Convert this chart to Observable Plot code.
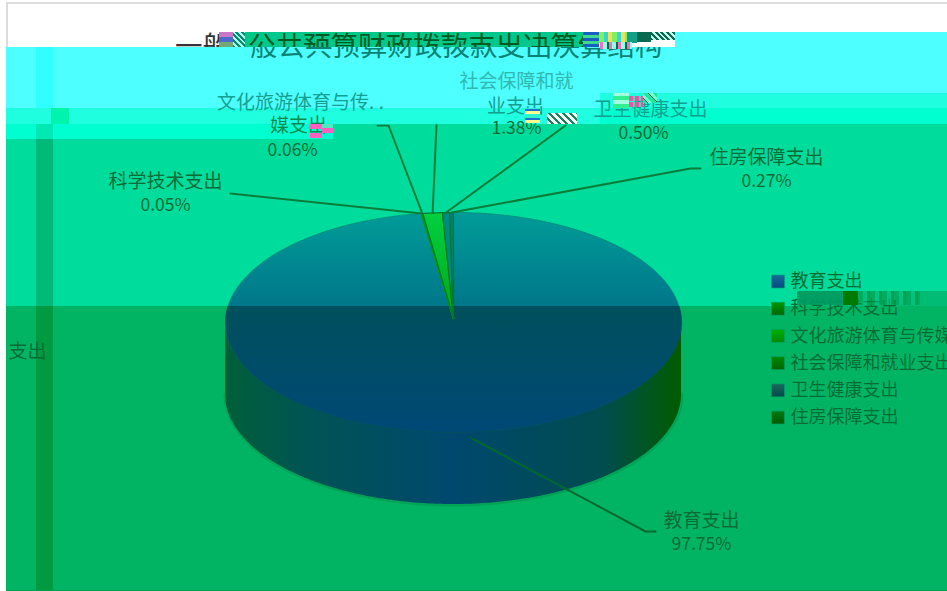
<!DOCTYPE html>
<html><head><meta charset="utf-8">
<script src="https://cdn.jsdelivr.net/npm/d3@7"></script>
<script src="https://cdn.jsdelivr.net/npm/@observablehq/plot@0.6"></script>
<style>
html,body{margin:0;padding:0;background:#fff;overflow:hidden}
#stage{position:relative;width:947px;height:591px;overflow:hidden;font-family:"Noto Sans CJK SC",sans-serif}
#stage i{position:absolute;display:block}
#stage svg{position:absolute;left:0;top:0;z-index:2;background:transparent}
.over{z-index:5}
.t{position:absolute;overflow:hidden;white-space:nowrap;font-size:27.5px;line-height:32px;z-index:3}
.t span{position:absolute;top:-4px}
</style></head><body>
<div id="stage">
  <!-- frame -->
  <i style="left:6px;top:2px;width:941px;height:2px;background:#dcdcdc"></i>
  <i style="left:6px;top:2px;width:2px;height:46px;background:#dcdcdc"></i>
  <!-- displaced colour bands -->
  <i style="left:6px;top:47px;width:941px;height:61px;background:#4dffff"></i>
  <i style="left:675px;top:32px;width:272px;height:15px;background:#4dffff"></i>
  <i style="left:6px;top:108px;width:941px;height:16px;background:#1fffdf"></i>
  <i style="left:6px;top:124px;width:327px;height:15px;background:#00ffd0"></i>
  <i style="left:333px;top:124px;width:614px;height:182px;background:#00dc9c"></i>
  <i style="left:6px;top:139px;width:327px;height:167px;background:#00dc9c"></i>
  <i style="left:600px;top:93px;width:347px;height:15px;background:#1fffdf"></i>
  <i style="left:600px;top:108px;width:347px;height:16px;background:#00ffd0"></i>
  <i style="left:6px;top:306px;width:941px;height:284px;background:#00b464"></i>
  <i style="left:797px;top:291px;width:150px;height:15px;background:#00bc74"></i>
  <i style="left:6px;top:590px;width:941px;height:1px;background:#00a050"></i>
  <!-- vertical strip -->
  <i style="left:36px;top:47px;width:17px;height:61px;background:#30ffff"></i>
  <i style="left:51px;top:108px;width:18px;height:16px;background:#00f4ac"></i>
  <i style="left:36px;top:124px;width:17px;height:15px;background:#00e8b4"></i>
  <i style="left:36px;top:139px;width:17px;height:167px;background:#00bb78"></i>
  <i style="left:36px;top:306px;width:17px;height:284px;background:#009a40"></i>
  <!-- title, split by the displaced rows -->
  <div class="t" style="left:170px;top:32px;width:49px;height:15px;color:#333"><span style="left:5px">一般</span></div>
  <i style="left:245px;top:32px;width:338px;height:15px;background:#00c88a;z-index:1"></i>
  <div class="t" style="left:245px;top:32px;width:340px;height:15px;color:#005a22"><span style="left:3px">公共预算财政拨款支出决算结构</span></div>
  <div class="t" style="left:245px;top:47px;width:430px;height:15px;color:#0a8274"><span style="left:5px;top:-19px">般公共预算财政拨款支出决算结构</span></div>

  <div id="chart"></div>

  <!-- compression noise over the drawing -->
  <i class="over" style="left:0;top:0;width:6px;height:591px;background:#fff"></i>
  <i class="over" style="left:219px;top:32px;width:14px;height:5px;background:#c878c8"></i>
  <i class="over" style="left:219px;top:37px;width:14px;height:5px;background:#5068c8"></i>
  <i class="over" style="left:219px;top:42px;width:14px;height:5px;background:#70a878"></i>
  <i class="over" style="left:233px;top:32px;width:12px;height:15px;background:repeating-linear-gradient(45deg,#0c8a70 0 2px,#a8fff0 2px 4px)"></i>
  <i class="over" style="left:583px;top:32px;width:16px;height:15px;background:repeating-linear-gradient(0deg,#1860c0 0 3px,#40d890 3px 6px)"></i>
  <i class="over" style="left:599px;top:32px;width:28px;height:11px;background:repeating-linear-gradient(90deg,#80f060 0 5px,#30d8d0 5px 9px,#f0e060 9px 13px)"></i>
  <i class="over" style="left:627px;top:32px;width:10px;height:11px;background:#10a088"></i>
  <i class="over" style="left:637px;top:32px;width:14px;height:10px;background:#0a6a50"></i>
  <i class="over" style="left:651px;top:32px;width:24px;height:8px;background:repeating-linear-gradient(45deg,#0a6a50 0 2px,#c0fff0 2px 4px)"></i>
  <i class="over" style="left:600px;top:42px;width:32px;height:7px;background:repeating-linear-gradient(90deg,#f070c0 0 3px,#90ffe0 3px 7px,#0a6a50 7px 9px)"></i>
  <i class="over" style="left:310px;top:124px;width:12px;height:5px;background:#ff60c0"></i>
  <i class="over" style="left:322px;top:128px;width:11px;height:5px;background:#ff60c0"></i>
  <i class="over" style="left:310px;top:133px;width:12px;height:5px;background:#ff60c0"></i>
  <i class="over" style="left:322px;top:124px;width:11px;height:4px;background:#50e8c0"></i>
  <i class="over" style="left:613px;top:93px;width:16px;height:15px;background:repeating-linear-gradient(0deg,#30f090 0 4px,#a0ffe0 4px 8px)"></i>
  <i class="over" style="left:629px;top:96px;width:14px;height:5px;background:repeating-linear-gradient(90deg,#f050b0 0 4px,#40e0a0 4px 6px)"></i>
  <i class="over" style="left:629px;top:102px;width:14px;height:5px;background:repeating-linear-gradient(90deg,#f050b0 0 4px,#40e0a0 4px 6px)"></i>
  <i class="over" style="left:643px;top:93px;width:14px;height:10px;background:repeating-linear-gradient(45deg,#20e8a0 0 3px,#0a6a40 3px 4px,#70ffd0 4px 7px)"></i>
  <i class="over" style="left:525px;top:108px;width:15px;height:15px;background:repeating-linear-gradient(0deg,#ffff90 0 3px,#2070d0 3px 5px,#30f0d0 5px 9px)"></i>
  <i class="over" style="left:547px;top:113px;width:30px;height:11px;background:repeating-linear-gradient(45deg,#f0fff8 0 3px,#208060 3px 5px)"></i>
  <i class="over" style="left:797px;top:291px;width:46px;height:14px;background:#009a62;opacity:.9"></i>
  <i class="over" style="left:843px;top:291px;width:15px;height:14px;background:#007a00"></i>
  <i class="over" style="left:858px;top:291px;width:62px;height:14px;opacity:.55;background:repeating-linear-gradient(90deg,#00a050 0 5px,#00c888 5px 9px,#008a30 9px 12px)"></i>
</div>
<script>
// ---------- data ----------
const categories = ["教育支出","科学技术支出","文化旅游体育与传媒","社会保障和就业支出","卫生健康支出","住房保障支出"];
const shares = [97.75, 0.05, 0.06, 1.38, 0.50, 0.27];
const sliceFills = ["url(#eduTop)","#009000","#00a000","url(#socialTop)","#008a84","#007f7c"];
const swatchTops = ["#1a6a9a","#009a00","#00b000","#008a00","#1a6a60","#007a10"];
const swatchBottoms = ["#004a80","#006400","#008a00","#006400","#004a48","#005a00"];

// ---------- layout ----------
const W = 947, H = 591;
const pie = {cx:453, cy:322, rx:228, ry:110, apexY:318, depth:72};
const labelLines = [
  {text:"教育支出", x:701, y:520}, {text:"97.75%", x:701, y:544},
  {text:"科学技术支出", x:165, y:181}, {text:"0.05%", x:165, y:205},
  {text:"文化旅游体育与传. .", x:300, y:102}, {text:"媒支出", x:298, y:125}, {text:"0.06%", x:292, y:150},
  {text:"社会保障和就", x:516, y:81}, {text:"业支出", x:515, y:106}, {text:"1.38%", x:516, y:128},
  {text:"卫生健康支出", x:650, y:109}, {text:"0.50%", x:643, y:133},
  {text:"住房保障支出", x:766, y:157}, {text:"0.27%", x:766, y:181},
  {text:"支出", x:27, y:351, anchor:"end"}
];
const leaderPaths = [
  [[645,531],[655,531]],
  [[230,193]],
  [[388,125],[377,125]],
  [[436,124]],
  [[565,125]],
  [[690,168],[700,168]]
];
const legendTop = 281, legendStep = 27.2;

// ink of a label depends on the displaced band it sits in
const inkAt = d => d.y < 90 ? "#30b8b0"
  : d.y < 115 ? "#14a090"
  : d.y < 139 && d.x < 333 ? "#0a8a50"
  : "#0b6c36";
const isPercent = d => d.text.endsWith("%");

// ---------- geometry from the values ----------
const total = d3.sum(shares);
let run = 0;
const arcs = shares.map(v => { const a0 = run/total*2*Math.PI; run += v; return [a0, run/total*2*Math.PI]; });
const rim = a => ({x: pie.cx + pie.rx*Math.sin(a), y: pie.cy - pie.ry*Math.cos(a)});
const sliceRows = categories.flatMap((name,i) => {
  const [a0,a1] = arcs[i], n = Math.max(2, Math.ceil((a1-a0)*120));
  const ring = d3.range(n+1).map(k => rim(a0+(a1-a0)*k/n));
  return [{x:pie.cx,y:pie.apexY},...ring,{x:pie.cx,y:pie.apexY}].map(p => ({...p,name}));
});
const sideRows = d3.range(241).map(k => {
  const p = rim(Math.PI/2 + Math.PI*k/240);
  return {x:p.x, top:p.y, bottom:p.y+pie.depth};
});
const leaderRows = categories.flatMap((name,i) => {
  const mid = (arcs[i][0]+arcs[i][1])/2;
  const s = rim(mid);
  return [[s.x, i===0 ? s.y+5 : s.y], ...leaderPaths[i]].map(([x,y]) => ({x,y,name}));
});
const legendRows = categories.map((name,i) => ({name, i, y:legendTop+legendStep*i}));

// ---------- gradient definitions ----------
const ns = "http://www.w3.org/2000/svg";
function grad(id, stops, attrs){
  const g = document.createElementNS(ns,"linearGradient");
  g.setAttribute("id",id);
  Object.entries(attrs).forEach(([k,v]) => g.setAttribute(k,v));
  stops.forEach(([o,c]) => { const s=document.createElementNS(ns,"stop"); s.setAttribute("offset",o); s.setAttribute("stop-color",c); g.appendChild(s); });
  return g;
}
const userY = {gradientUnits:"userSpaceOnUse",x1:0,x2:0,y1:0,y2:H};
const userX = {gradientUnits:"userSpaceOnUse",x1:0,x2:W,y1:0,y2:0};
const hard = (rows) => rows.flatMap(([y0,y1,c0,c1]) => [[y0/H,c0],[y1/H,c1||c0]]);
function defsMark(){
  const d = document.createElementNS(ns,"defs");
  d.appendChild(grad("eduTop", hard([[212,305.5,"#009c98","#00778a"],[305.5,440,"#00505c","#004878"]]), userY));
  d.appendChild(grad("eduRim", hard([[0,305.5,"#00907c"],[305.5,591,"#00505c"]]), userY));
  d.appendChild(grad("socialTop", [[0,"#00d040"],[1,"#00a818"]], {x1:0,x2:0,y1:0,y2:1}));
  d.appendChild(grad("side", [[225/W,"#005f38"],[300/W,"#005552"],[450/W,"#00486e"],[600/W,"#004c50"],[681/W,"#005c00"]], userX));
  d.appendChild(grad("lead", hard([[0,124,"#14a878"],[124,306,"#0a7d38"],[306,438,"#005a38"],[438,591,"#00692c"]]), userY));
  categories.forEach((_,i) => d.appendChild(grad("sw"+i, [[0,swatchTops[i]],[1,swatchBottoms[i]]], {x1:0,x2:0,y1:0,y2:1})));
  return d;
}

// ---------- chart ----------
const font = '"Noto Sans CJK SC",sans-serif';
const chart = Plot.plot({
  width:W, height:H, margin:0,
  style:{background:"transparent"},
  x:{domain:[0,W],range:[0,W],axis:null},
  y:{domain:[0,H],range:[0,H],axis:null},
  marks:[
    defsMark,
    Plot.line(sideRows.map(d => ({x:d.x,y:d.bottom})), {x:"x",y:"y",stroke:"#009a4e",strokeWidth:4,strokeOpacity:.6,curve:"linear"}),
    Plot.area(sideRows, {x1:"x",x2:"x",y1:"top",y2:"bottom",fill:"url(#side)",curve:"linear"}),
    ...categories.map((name,i) =>
      Plot.line(sliceRows.filter(d => d.name===name), {x:"x",y:"y",fill:sliceFills[i],
        stroke: i===0 ? "url(#eduRim)" : i<3 ? "#009a10" : "#007a20", strokeWidth: i===0 ? 1 : i<3 ? 1.6 : 1.2, curve:"linear"})),
    Plot.line(leaderRows, {x:"x",y:"y",z:"name",stroke:"url(#lead)",strokeWidth:2,curve:"linear"}),
    Plot.text(labelLines, {x:"x",y:"y",text:"text",textAnchor:d => d.anchor||"middle",
      fontSize:19, fontFamily:font, fill:inkAt, filter:d => !isPercent(d)}),
    Plot.text(labelLines, {x:"x",y:"y",text:"text",textAnchor:"middle",
      fontSize:17.5, fontFamily:font, fill:inkAt, filter:isPercent}),
    ...legendRows.map(d => Plot.dot([d], {x:()=>777.5,y:"y",symbol:"square",r:7.3,fill:"url(#sw"+d.i+")",stroke:"#00a070",strokeWidth:.6})),
    Plot.text(legendRows, {x:()=>790,y:"y",text:"name",textAnchor:"start",fontSize:18,fontFamily:font,fill:"#066e34"})
  ]
});
document.getElementById("chart").appendChild(chart);
</script>
</body></html>
